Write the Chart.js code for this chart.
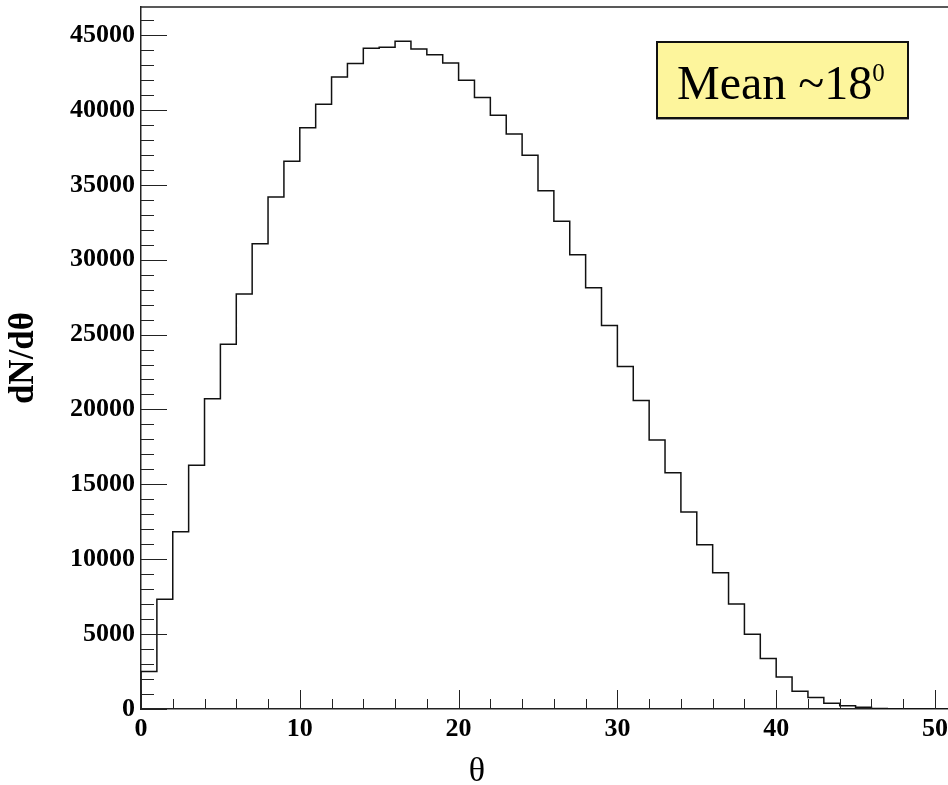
<!DOCTYPE html>
<html>
<head>
<meta charset="utf-8">
<script src="https://cdn.jsdelivr.net/npm/chart.js@4.4.1/dist/chart.umd.min.js"></script>
<style>
  body { margin: 0; background: #fff; }
  #wrap { position: relative; width: 948px; height: 785px; }
  #meanBox {
    position: absolute; left: 656px; top: 41px; width: 253px; height: 78px;
    box-sizing: border-box; background: #fdf59c; border: 2px solid #111;
    box-shadow: 0 1px 0 #999;
  }
  #meanBox span.txt {
    position: absolute; left: 19px; top: 16px; white-space: nowrap;
    font-family: "Liberation Serif", serif; font-size: 48px; line-height: 1; color: #000;
  }
  #meanBox span.sup { font-size: 25px; position: relative; top: -18px; }
  #xTitle {
    position: absolute; left: 447px; top: 753px; width: 60px; text-align: center;
    font-family: "Liberation Serif", serif; font-size: 34px; line-height: 1; color: #000;
  }
</style>
</head>
<body>
<div id="wrap">
  <canvas id="histo"></canvas>
  <div id="meanBox"><span class="txt">Mean ~18<span class="sup">0</span></span></div>
  <div id="xTitle">θ</div>
</div>
<script>
// bin left edges (degrees) and entries per bin
const thetaBins = [0, 1, 2, 3, 4, 5, 6, 7, 8, 9, 10, 11, 12, 13, 14, 15, 16, 17, 18, 19, 20,
  21, 22, 23, 24, 25, 26, 27, 28, 29, 30, 31, 32, 33, 34, 35, 36, 37, 38, 39, 40,
  41, 42, 43, 44, 45, 46, 47, 48, 49, 50];
const counts = [2500, 7330, 11840, 16270, 20720, 24350, 27710, 31070, 34190, 36570, 38810,
  40380, 42200, 43090, 44110, 44180, 44580, 44070, 43690, 43130, 41980,
  40820, 39640, 38390, 36970, 34610, 32560, 30330, 28130, 25600, 22860,
  20590, 17960, 15770, 13150, 10970, 9100, 7010, 4990, 3380, 2140,
  1180, 760, 380, 210, 110, 40, 15, 5, 2, 1];
const xTicks = [0, 10, 20, 30, 40, 50];
const yTicks = [0, 5000, 10000, 15000, 20000, 25000, 30000, 35000, 40000, 45000];

// step outline: each bin's height starts at its left edge
var pts = [{x: 0, y: 0}];
thetaBins.forEach(function(b, i) { pts.push({x: b, y: counts[i]}); });
pts.push({x: thetaBins[thetaBins.length - 1] + 1, y: counts[counts.length - 1]});

const frameTicks = {
  id: 'frameTicks',
  afterDraw(chart) {
    const {ctx, chartArea: a, scales: {x, y}} = chart;
    ctx.save();
    ctx.strokeStyle = '#222';
    ctx.lineWidth = 1.5;
    ctx.beginPath();
    ctx.moveTo(a.left, a.top);
    ctx.lineTo(a.right, a.top);
    ctx.stroke();
    ctx.lineWidth = 1;
    ctx.beginPath();
    for (let v = 0; v <= x.max; v += 2) {
      const px = Math.round(x.getPixelForValue(v)) + 0.5;
      ctx.moveTo(px, a.bottom);
      ctx.lineTo(px, a.bottom - (v % 10 === 0 ? 19 : 10));
    }
    for (let v = 0; v <= y.max; v += 1000) {
      const py = Math.round(y.getPixelForValue(v)) + 0.5;
      ctx.moveTo(a.left, py);
      ctx.lineTo(a.left + (v % 5000 === 0 ? 26 : 13), py);
    }
    ctx.stroke();
    ctx.restore();
  }
};

// no extra room for overhanging labels, the frame sits where the original has it
function noPad(s) {
  s.paddingTop = 0; s.paddingBottom = 0; s.paddingLeft = 0; s.paddingRight = 0;
}

const tickFont = {family: 'Liberation Serif', weight: 'bold', size: 26};

new Chart(document.getElementById('histo'), {
  type: 'line',
  data: {
    datasets: [{
      data: pts,
      stepped: true,
      borderColor: '#111',
      borderWidth: 1.5,
      pointRadius: 0,
      fill: false
    }]
  },
  options: {
    responsive: true,
    maintainAspectRatio: false,
    animation: false,
    layout: {padding: {top: 7, left: 0, right: 0, bottom: 0}},
    plugins: {legend: {display: false}, tooltip: {enabled: false}},
    scales: {
      x: {
        type: 'linear', min: 0, max: 50.82,
        afterBuildTicks: function(s) { s.ticks = xTicks.map(function(v) { return {value: v}; }); },
        afterFit: function(s) { s.height = 76; noPad(s); },
        grid: {display: false, drawTicks: false},
        border: {display: true, color: '#222', width: 1.5},
        ticks: {font: tickFont, color: '#000', padding: 5, maxRotation: 0, autoSkip: false,
          callback: function(v) { return String(v); }}
      },
      y: {
        type: 'linear', min: 0, max: 46870,
        afterBuildTicks: function(s) { s.ticks = yTicks.map(function(v) { return {value: v}; }); },
        afterFit: function(s) { s.width = 141; noPad(s); },
        grid: {display: false, drawTicks: false},
        border: {display: true, color: '#222', width: 1.5},
        ticks: {font: tickFont, color: '#000', padding: 6, autoSkip: false,
          callback: function(v) { return String(v); }},
        title: {
          display: true, text: 'dN/dθ', color: '#000',
          font: {family: 'Liberation Serif', weight: 'bold', size: 35},
          padding: {top: 3, bottom: 0}
        }
      }
    }
  },
  plugins: [frameTicks]
});
</script>
</body>
</html>
